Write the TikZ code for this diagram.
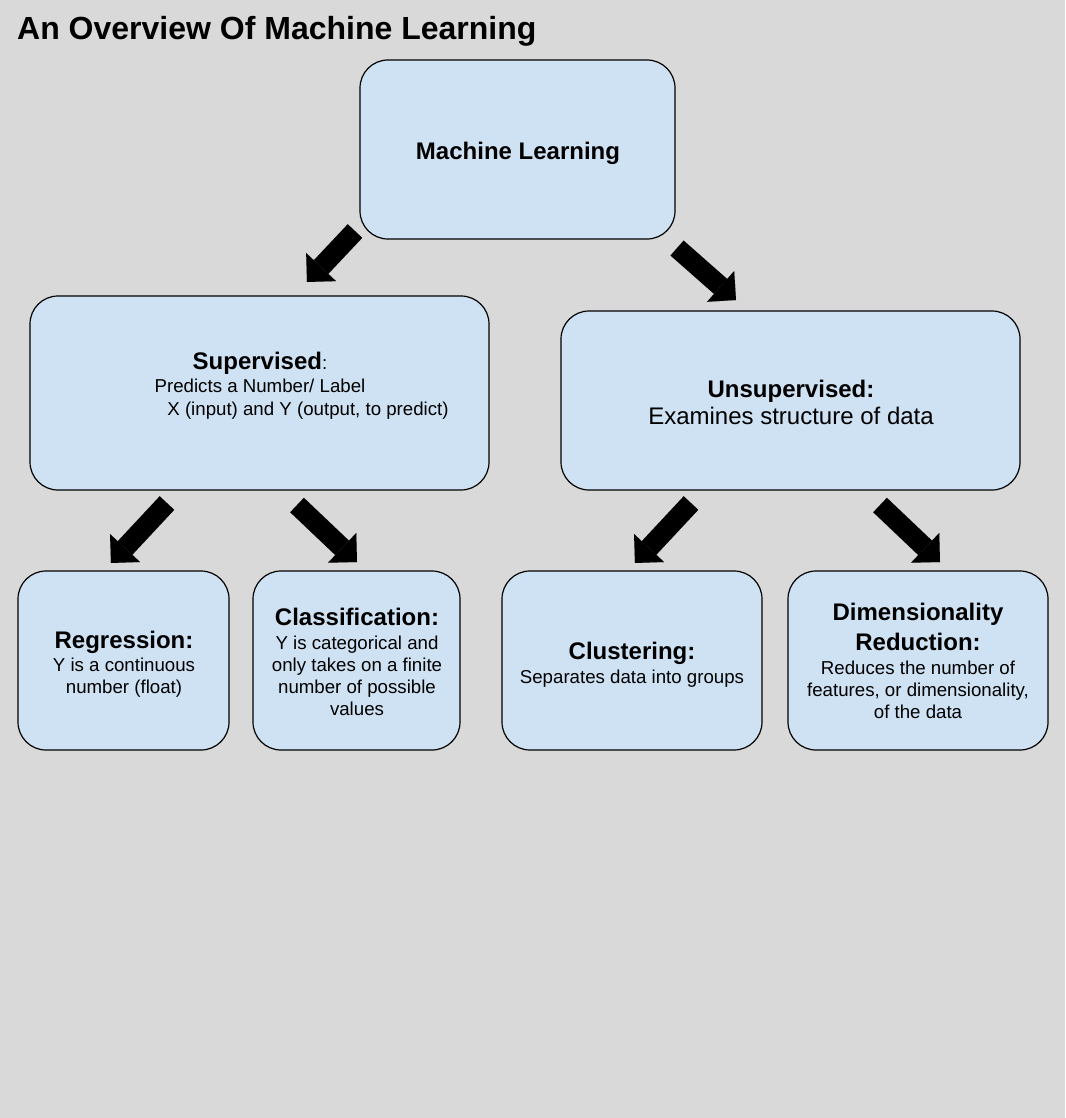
\documentclass[tikz,border=0pt]{standalone}
\usepackage{fontspec}
\setmainfont{Liberation Sans}
\usetikzlibrary{arrows.meta}
\definecolor{bgc}{HTML}{D9D9D9}
\definecolor{boxc}{HTML}{CFE2F3}
\newcommand{\mlb}{\bfseries\fontsize{24}{28}\selectfont}
\begin{document}
\begin{tikzpicture}[x=1pt,y=-1pt,
  mlbox/.style={draw=black,line width=1.2pt,fill=boxc,rounded corners=28pt,inner sep=0pt},
  mltext/.style={align=center,anchor=base,inner sep=0pt,font=\fontsize{18.67}{22}\selectfont},
  bigarrow/.style={draw=black,line width=20pt,-{Triangle[width=41pt,length=20.5pt,line width=0.01pt]}}]
\useasboundingbox (0,0) rectangle (1065,1118);
\fill[bgc] (0,0) rectangle (1065,1118);
\node[anchor=base west,inner sep=0pt,font=\bfseries\fontsize{32}{38}\selectfont] (title) at (17,40) {An Overview Of Machine Learning};
% boxes
\node[mlbox,minimum width=315pt,minimum height=179pt] (ml) at (517.5,149.5) {};
\node[mlbox,minimum width=459pt,minimum height=194pt] (sup) at (259.5,393) {};
\node[mlbox,minimum width=459pt,minimum height=179pt] (uns) at (790.5,400.5) {};
\node[mlbox,minimum width=211pt,minimum height=179pt] (reg) at (123.5,660.5) {};
\node[mlbox,minimum width=207pt,minimum height=179pt] (cls) at (356.5,660.5) {};
\node[mlbox,minimum width=260pt,minimum height=179pt] (clu) at (632,660.5) {};
\node[mlbox,minimum width=260pt,minimum height=179pt] (dim) at (918,660.5) {};
% texts (anchor = baseline of last line)
\node[mltext] (mlT) at (518,159.6) {\mlb Machine Learning};
\node[mltext,font=\fontsize{18.67}{23}\selectfont] (supT) at (260,415.7) {{\mlb Supervised}:\\ Predicts a Number/ Label\\ \hspace*{96pt}X (input) and Y (output, to predict)};
\node[mltext,font=\fontsize{24}{27}\selectfont] (unsT) at (791,424.6) {\bfseries Unsupervised:\\ Examines structure of data};
\node[mltext] (regT) at (124,693.6) {\mlb Regression:\\[1pt] Y is a continuous\\ number (float)};
\node[mltext] (clsT) at (357,715.6) {\mlb Classification:\\[2pt] Y is categorical and\\ only takes on a finite\\ number of possible\\ values};
\node[mltext] (cluT) at (632,683.6) {\mlb Clustering:\\[2pt] Separates data into groups};
\node[mltext] (dimT) at (918,718.6) {\mlb Dimensionality\\[7pt] \mlb Reduction:\\[2pt] Reduces the number of\\ features, or dimensionality,\\ of the data};
% arrow ends
\coordinate (a1s) at (355,231); \coordinate (a1e) at (307,282);
\coordinate (a2s) at (677,248); \coordinate (a2e) at (736,300);
\coordinate (a3s) at (167,503); \coordinate (a3e) at (111,563);
\coordinate (a4s) at (297,505); \coordinate (a4e) at (357,562);
\coordinate (a5s) at (691,503); \coordinate (a5e) at (635,563);
\coordinate (a6s) at (880,505); \coordinate (a6e) at (940,562);
\draw[bigarrow] (a1s) -- (a1e);
\draw[bigarrow] (a2s) -- (a2e);
\draw[bigarrow] (a3s) -- (a3e);
\draw[bigarrow] (a4s) -- (a4e);
\draw[bigarrow] (a5s) -- (a5e);
\draw[bigarrow] (a6s) -- (a6e);
\end{tikzpicture}
\end{document}
